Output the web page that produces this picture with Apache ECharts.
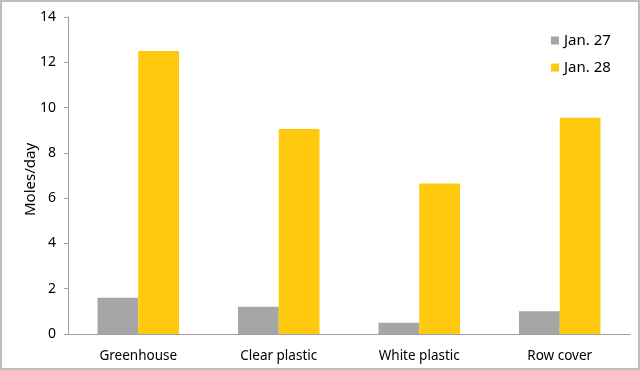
<!DOCTYPE html>
<html><head><meta charset="utf-8">
<script src="https://cdn.jsdelivr.net/npm/echarts@6/dist/echarts.min.js"></script>
<style>
html,body{margin:0;padding:0;background:#fff;}
#frame{position:absolute;left:0;top:0;width:636px;height:366px;border:2px solid #bdbdbd;}
#c{position:absolute;left:0;top:0;width:640px;height:370px;}
</style></head>
<body>
<div id="frame"></div>
<div id="c"></div>
<script>
const categories = ['Greenhouse', 'Clear plastic', 'White plastic', 'Row cover'];
const jan27 = [1.6, 1.2, 0.5, 1.0];
const jan28 = [12.5, 9.05, 6.65, 9.55];
const yTicks = [0, 2, 4, 6, 8, 10, 12, 14];

const font = 'Noto Sans';
const chart = echarts.init(document.getElementById('c'));
chart.setOption({
  animation: false,
  textStyle: { fontFamily: font, color: '#000' },
  grid: { left: 68, right: 10, top: 17, bottom: 36 },
  legend: {
    orient: 'vertical', left: 546, top: 28, itemWidth: 8, itemHeight: 8, itemGap: 12,
    icon: 'rect', textStyle: { fontFamily: font, fontSize: 15, color: '#000' },
    data: ['Jan. 27', 'Jan. 28']
  },
  xAxis: {
    type: 'category', data: categories,
    axisLine: { lineStyle: { color: '#a0a0a0', width: 1 } },
    axisTick: { show: false },
    axisLabel: { color: '#000', fontSize: 13.5, fontFamily: font, margin: 15 }
  },
  yAxis: {
    type: 'value', min: yTicks[0], max: yTicks[yTicks.length - 1], interval: 2,
    name: 'Moles/day', nameLocation: 'middle', nameGap: 30, nameRotate: 90,
    nameMoveOverlap: false,
    nameTextStyle: { fontSize: 15, fontFamily: font, color: '#000', padding: [0, 8, 0, 0] },
    axisLine: { show: true, lineStyle: { color: '#a0a0a0' } },
    axisTick: { show: true, length: 4, lineStyle: { color: '#a0a0a0' } },
    axisLabel: { color: '#000', fontSize: 14, fontFamily: font, margin: 12 },
    splitLine: { show: false }
  },
  series: [
    { name: 'Jan. 27', type: 'bar', data: jan27, itemStyle: { color: '#a6a6a6' }, barGap: '0%', barCategoryGap: '42%' },
    { name: 'Jan. 28', type: 'bar', data: jan28, itemStyle: { color: '#ffc90e' } }
  ]
});
</script>
</body></html>
